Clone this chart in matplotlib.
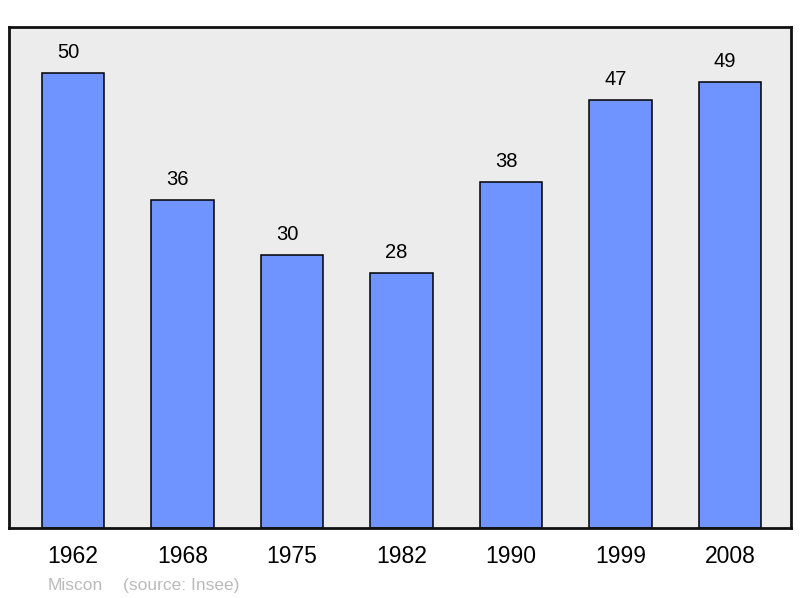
import matplotlib
matplotlib.use("Agg")
import matplotlib.pyplot as plt

years = ["1962", "1968", "1975", "1982", "1990", "1999", "2008"]
population = [50, 36, 30, 28, 38, 47, 49]
author = "Miscon"
source = "(source: Insee)"

plt.rcParams['font.family'] = ['Liberation Sans', 'DejaVu Sans']

W, H = 800, 598
fig = plt.figure(figsize=(W / 100, H / 100), dpi=100)
ax = fig.add_axes([9 / W, (H - 528) / H, 782 / W, 501 / H])
ax.set_facecolor('#ececec')

x = list(range(len(years)))
ax.bar(x, population, width=0.57, color='#7094ff', edgecolor='black', linewidth=1.1, zorder=2)
for xi, v in zip(x, population):
    ax.annotate(str(v), (xi, v), xytext=(-3.6, 10.8), textcoords='offset points',
                ha='center', va='baseline', fontsize=14.5, color='black')

ax.set_xlim(-0.584, 6.557)
ax.set_ylim(0, 55.05)
ax.set_xticks(x)
ax.set_xticklabels(years, fontsize=16.5)
ax.set_yticks([])
ax.tick_params(axis='x', length=0, pad=12)
for s in ax.spines.values():
    s.set_linewidth(2)
    s.set_color('#111111')

fig.text(48 / W, 1 - 590 / H, author, fontsize=12.5, color='#bbbbbb', va='baseline', ha='left')
fig.text(123 / W, 1 - 590 / H, source, fontsize=12.5, color='#bbbbbb', va='baseline', ha='left')

fig.savefig('out.png', dpi=100, facecolor='white')
